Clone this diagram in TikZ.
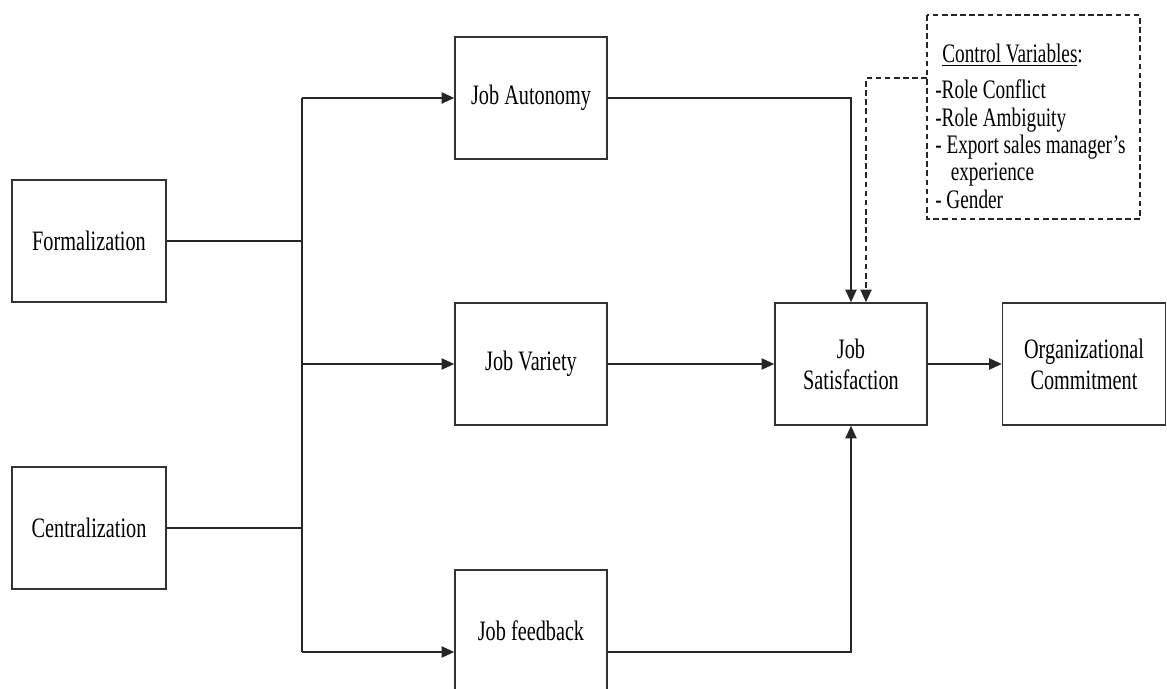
\documentclass[tikz,border=0pt]{standalone}
\usepackage{fontspec}
\setmainfont{Liberation Serif}[FakeStretch=0.72]
\usetikzlibrary{arrows.meta}

\tikzset{
    box/.style={draw=black!80, line width=1.1pt, minimum width=152*0.025cm, minimum height=122*0.025cm, align=center, font=\fontsize{20}{22}\selectfont},
    link/.style={draw=black!85, line width=1.1pt},
    tip/.style={link, -{Triangle[length=9pt,width=8pt]}}
}

\begin{document}
\begin{tikzpicture}[x=0.025cm, y=-0.025cm]
        % Page frame
        \useasboundingbox (0, 0) rectangle (1167, 689);
        \clip (0, 0) rectangle (1167, 689);

        % Antecedents
        \node[box, minimum width=154*0.025cm] (form) at (89, 241) {Formalization};
        \node[box, minimum width=154*0.025cm] (cent) at (89, 528) {Centralization};

        % Job characteristics
        \node[box] (auto) at (531, 98) {Job Autonomy};
        \node[box] (var) at (531, 364) {Job Variety};
        \node[box] (feed) at (531, 631) {Job feedback};

        % Outcomes
        \node[box] (sat) at (851, 364) {Job\\Satisfaction};
        \node[box, minimum width=163*0.025cm] (org) at (1084, 364) {Organizational\\Commitment};

        % Control variables
        \draw[black!85, line width=1.1pt, dash pattern=on 4pt off 2.5pt] (927, 15) rectangle (1140, 219);
        \coordinate (ctrl) at (927, 78);
        \node[anchor=north west, inner sep=0pt, align=left, font=\fontsize{19}{19.5}\selectfont] (ctrltext) at (935, 44) {
            \hspace*{5pt}\underline{Control Variables}:\\[6pt]
            -Role Conflict\\
            -Role Ambiguity\\
            - Export sales manager’s\\
            \hspace*{11pt}experience\\
            - Gender
        };

        % Trunk joining the antecedents
        \coordinate (top) at (302, 98);
        \coordinate (mid) at (302, 364);
        \coordinate (bot) at (302, 652);
        \draw[link] (top) -- (bot);
        \draw[link] (form.east) -- (form.east -| top);
        \draw[link] (cent.east) -- (cent.east -| top);

        % Arrows into the job characteristics
        \draw[tip] (top) -- (auto.west);
        \draw[tip] (mid) -- (var.west);
        \draw[tip] (bot) -- (bot -| feed.west);

        % Arrows into job satisfaction
        \draw[tip] (auto.east) -| (sat.north);
        \draw[tip] (var.east) -- (sat.west);
        \draw[tip] (bot -| feed.east) -| (sat.south);
        \draw[black!85, line width=1.1pt, dash pattern=on 4pt off 2.5pt, -{Triangle[length=9pt,width=8pt]}] (ctrl) -| ([xshift=15*0.025cm]sat.north);

        % Outcome link
        \draw[tip] (sat.east) -- (org.west);
    \end{tikzpicture}
\end{document}
